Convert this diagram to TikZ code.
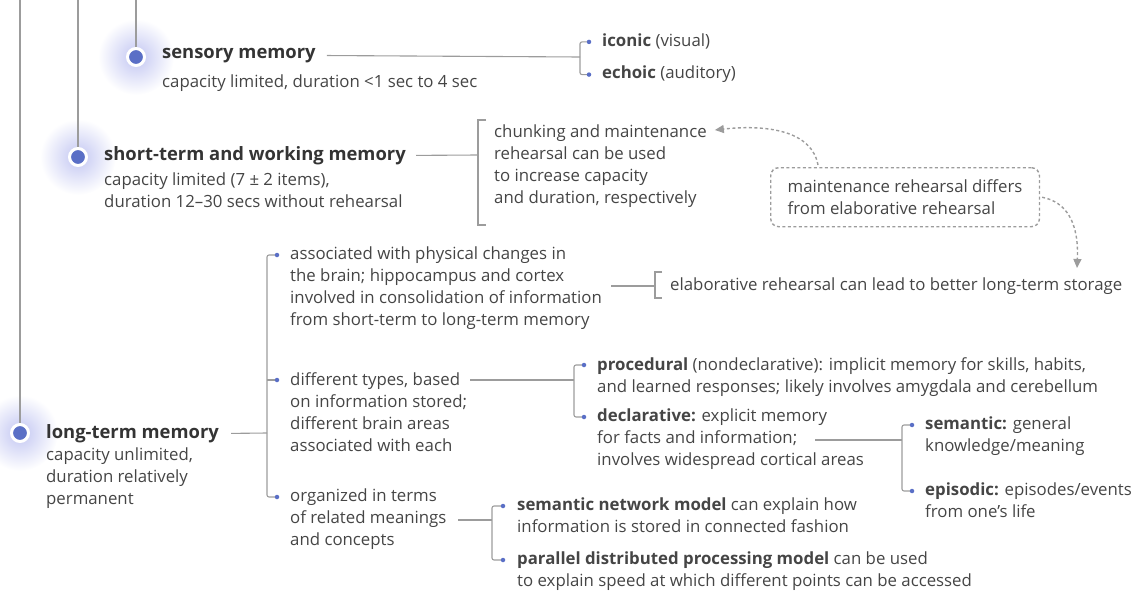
\documentclass[tikz,border=0pt]{standalone}
\usepackage{fontspec}
\setmainfont{Open Sans}
\usetikzlibrary{arrows.meta,positioning,calc}

\definecolor{txtc}{HTML}{454545}
\definecolor{linec}{HTML}{9C9C9C}
\definecolor{dotblue}{HTML}{5A6FC6}
\definecolor{glowc}{HTML}{C2C6F2}

\tikzset{
  bodytxt/.style={anchor=north west, inner sep=0pt, align=left, text=txtc,
    font=\fontsize{16.8}{22}\selectfont},
  headtxt/.style={anchor=north west, inner sep=0pt, text=txtc!75!black,
    font=\fontsize{18.4}{22}\selectfont\bfseries},
  conn/.style={draw=linec, line width=1.1pt, rounded corners=2pt},
  bdot/.style={circle, fill=dotblue, inner sep=0pt, minimum size=4.5pt},
  memc/.style={circle, fill=dotblue, draw=white, line width=3pt, minimum size=17pt, inner sep=0pt},
  dashline/.style={draw=linec, line width=1.4pt, dash pattern=on 3pt off 2.5pt},
}

\begin{document}
\begin{tikzpicture}[x=1pt,y=-1pt]
\useasboundingbox (0,0) rectangle (1131,591);

% glow round the three stages
\foreach \c in {(136,57),(78,157),(20,433)}
  \shade[inner color=glowc, outer color=white] \c circle (38pt);

% stages
\node[memc] (sensc) at (136,57) {};
\node[memc] (stmc) at (78,157) {};
\node[memc] (ltmc) at (20,433) {};
\draw[conn] (136,0) -- (sensc);
\draw[conn] (78,0) -- (stmc);
\draw[conn] (20,0) -- (ltmc);

\node[headtxt] (sens) at (162,48) {sensory memory};
\node[bodytxt] (sensd) at (162,75) {capacity limited, duration <1 sec to 4 sec};
\node[headtxt] (stm) at (104,146) {short-term and working memory};
\node[bodytxt] (stmd) at (104,173) {capacity limited (7 ± 2 items),\\duration 12--30 secs without rehearsal};
\node[headtxt] (ltm) at (46,424) {long-term memory};
\node[bodytxt] (ltmd) at (46,448) {capacity unlimited,\\duration relatively\\permanent};

% sensory memory
\node[bodytxt] (icon) at (602,34) {\textbf{iconic} (visual)};
\node[bodytxt] (echo) at (602,66) {\textbf{echoic} (auditory)};
\coordinate (sensb) at (580,57);
\draw[conn] ([xshift=11pt]sens.east) -- (sensb);
\draw[conn] ([xshift=-13pt]icon.west) -| (sensb) |- ([xshift=-13pt]echo.west);
\node[bdot] (dicon) at ([xshift=-13pt]icon.west) {};
\node[bdot] (decho) at ([xshift=-13pt]echo.west) {};

% short-term memory
\node[bodytxt] (chunk) at (494,125) {chunking and maintenance\\rehearsal can be used\\to increase capacity\\and duration, respectively};
\coordinate (stmb) at (478,155);
\draw[conn] ([xshift=10pt]stm.east) -- (stmb);
\draw[conn, rounded corners=0pt] ($(chunk.north west)+(-8,-5)$) -- ++(-8,0) -- ++(0,105) -- ++(8,0);

\node[bodytxt, draw=linec, line width=1.4pt, dash pattern=on 3pt off 2.5pt,
  rounded corners=8pt, inner xsep=17pt, inner ysep=12pt] (maint) at (770,167)
  {maintenance rehearsal differs\\from elaborative rehearsal};
\coordinate (elabtip) at (1077,268);
\draw[dashline, -{Triangle[length=9pt,width=8pt]}] ($(maint.north west)+(48,-2)$)
  .. controls (812,132) and (770,124) .. ([xshift=8pt,yshift=-5pt]chunk.north east);
\draw[dashline, -{Triangle[length=9pt,width=8pt]}] ([xshift=2pt]maint.east)
  .. controls (1066,202) and (1079,222) .. (elabtip);

% long-term memory
\node[bodytxt] (phys) at (290,247) {associated with physical changes in\\the brain; hippocampus and cortex\\involved in consolidation of information\\from short-term to long-term memory};
\node[bodytxt] (types) at (290,372) {different types, based\\on information stored;\\different brain areas\\associated with each};
\node[bodytxt] (org) at (290,489) {organized in terms\\of related meanings\\and concepts};
\coordinate (ltmb) at (267,433);
\coordinate (dphys) at ([xshift=-13pt,yshift=-8pt]phys.north west);
\coordinate (dtypes) at ([xshift=-13pt,yshift=-8pt]types.north west);
\coordinate (dorg) at ([xshift=-13pt,yshift=-8pt]org.north west);
\draw[conn] ([xshift=12pt]ltm.east) -- (ltmb);
\draw[conn] (dphys) -| (ltmb) |- (dorg);
\draw[conn] (ltmb |- dtypes) -- (dtypes);
\foreach \d in {dphys,dtypes,dorg}
  \node[bdot] (b\d) at (\d) {};

\node[bodytxt] (elab) at (670,278) {elaborative rehearsal can lead to better long-term storage};
\coordinate (elabb) at (655,286);
\draw[conn] ([xshift=9pt]phys.east |- elabb) -- (elabb);
\draw[conn, rounded corners=0pt] ($(elabb)+(7,-14)$) -- ++(-7,0) -- ++(0,26) -- ++(7,0);

% types of long-term memory
\node[bodytxt] (proc) at (597,357) {\textbf{procedural} (nondeclarative): implicit memory for skills, habits,\\and learned responses; likely involves amygdala and cerebellum};
\node[bodytxt] (decl) at (597,409) {\textbf{declarative:} explicit memory\\for facts and information;\\involves widespread cortical areas};
\coordinate (typesb) at (574,380);
\coordinate (dproc) at ([xshift=-13pt,yshift=-8pt]proc.north west);
\coordinate (ddecl) at ([xshift=-13pt,yshift=-8pt]decl.north west);
\draw[conn] ([shift={(180,8)}]types.north west) -- (typesb);
\draw[conn] (dproc) -| (typesb) |- (ddecl);
\node[bdot] (bproc) at (dproc) {};
\node[bdot] (bdecl) at (ddecl) {};

\node[bodytxt] (sem) at (925,417) {\textbf{semantic:} general\\knowledge/meaning};
\node[bodytxt] (epi) at (925,483) {\textbf{episodic:} episodes/events\\from one’s life};
\coordinate (declb) at (902,440);
\coordinate (dsem) at ([xshift=-13pt,yshift=-8pt]sem.north west);
\coordinate (depi) at ([xshift=-13pt,yshift=-8pt]epi.north west);
\draw[conn] ([shift={(218,31)}]decl.north west) -- (declb);
\draw[conn] (dsem) -| (declb) |- (depi);
\node[bdot] (bsem) at (dsem) {};
\node[bdot] (bepi) at (depi) {};

% models
\node[bodytxt] (snm) at (517,498) {\textbf{semantic network model} can explain how\\information is stored in connected fashion};
\node[bodytxt] (pdp) at (517,552) {\textbf{parallel distributed processing model} can be used\\to explain speed at which different points can be accessed};
\coordinate (orgb) at (492,520);
\coordinate (dsnm) at ([xshift=-14pt,yshift=-8pt]snm.north west);
\coordinate (dpdp) at ([xshift=-14pt,yshift=-8pt]pdp.north west);
\draw[conn] ([shift={(168,31)}]org.north west) -- (orgb);
\draw[conn] (dsnm) -| (orgb) |- (dpdp);
\node[bdot] (bsnm) at (dsnm) {};
\node[bdot] (bpdp) at (dpdp) {};
\end{tikzpicture}
\end{document}
